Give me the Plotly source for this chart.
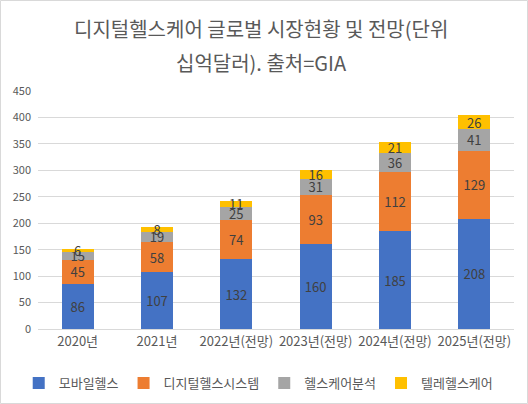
import plotly.graph_objects as go

# data
years = ['2020년', '2021년', '2022년(전망)', '2023년(전망)', '2024년(전망)', '2025년(전망)']
mobile_health = [86, 107, 132, 160, 185, 208]
digital_health_system = [45, 58, 74, 93, 112, 129]
healthcare_analytics = [15, 19, 25, 31, 36, 41]
telehealth = [6, 8, 11, 16, 21, 26]

series = [
    ('모바일헬스', mobile_health, '#4472C4'),
    ('디지털헬스시스템', digital_health_system, '#ED7D31'),
    ('헬스케어분석', healthcare_analytics, '#A5A5A5'),
    ('텔레헬스케어', telehealth, '#FFC000'),
]

FONT = 'Noto Sans CJK KR'
GREY = '#595959'

fig = go.Figure()
for name, vals, color in series:
    fig.add_trace(go.Bar(
        x=years, y=vals, name=name,
        marker=dict(color=color, line=dict(width=0)),
        text=vals, textposition='inside', insidetextanchor='middle', textangle=0,
        textfont=dict(family=FONT, size=13, color='#404040'),
        constraintext='none',
    ))

# plot area in pixels: l=38, r=14, t=91, b=75 -> 476 x 238
W, H = 528, 404
L, R, T, B = 38, 14, 91, 75
pw, ph = W - L - R, H - T - B

fig.update_layout(
    width=W, height=H,
    barmode='stack', bargap=0.6,
    margin=dict(l=L, r=R, t=T, b=B, autoexpand=False),
    paper_bgcolor='white', plot_bgcolor='white',
    font=dict(family=FONT, color=GREY),
    uniformtext=dict(minsize=13, mode='show'),
    showlegend=True,
    legend=dict(orientation='h', xref='container', yref='container',
                x=0.49, xanchor='center', y=(H - 383) / H, yanchor='middle',
                font=dict(family=FONT, size=13, color=GREY), traceorder='normal',
                itemwidth=30, tracegroupgap=0),
    xaxis=dict(tickfont=dict(family=FONT, size=13, color=GREY), showgrid=False,
               showline=True, linecolor='#D9D9D9', ticks=''),
    yaxis=dict(range=[0, 450], dtick=50, tickfont=dict(family=FONT, size=11, color=GREY),
               gridcolor='#D9D9D9', zeroline=False, showline=False, ticks='',
               ticklabelstandoff=6),
    annotations=[
        dict(text='디지털헬스케어 글로벌 시장현황 및 전망(단위', x=(261 - L) / pw, y=(H - B - 28) / ph,
             xref='paper', yref='paper', showarrow=False, xanchor='center', yanchor='middle',
             font=dict(family=FONT, size=20, color=GREY)),
        dict(text='십억달러). 출처=GIA', x=(261 - L) / pw, y=(H - B - 62) / ph,
             xref='paper', yref='paper', showarrow=False, xanchor='center', yanchor='middle',
             font=dict(family=FONT, size=20, color=GREY)),
    ],
    shapes=[dict(type='rect', xref='paper', yref='paper',
                 x0=-(L - 0.5) / pw, x1=(W - L - 0.5) / pw,
                 y0=-(B - 0.5) / ph, y1=(H - B - 0.5) / ph,
                 line=dict(color='#D9D9D9', width=1), layer='below')],
)

fig.write_html('out.html', config={'displayModeBar': False},
               post_script="document.body.style.margin='0';")
